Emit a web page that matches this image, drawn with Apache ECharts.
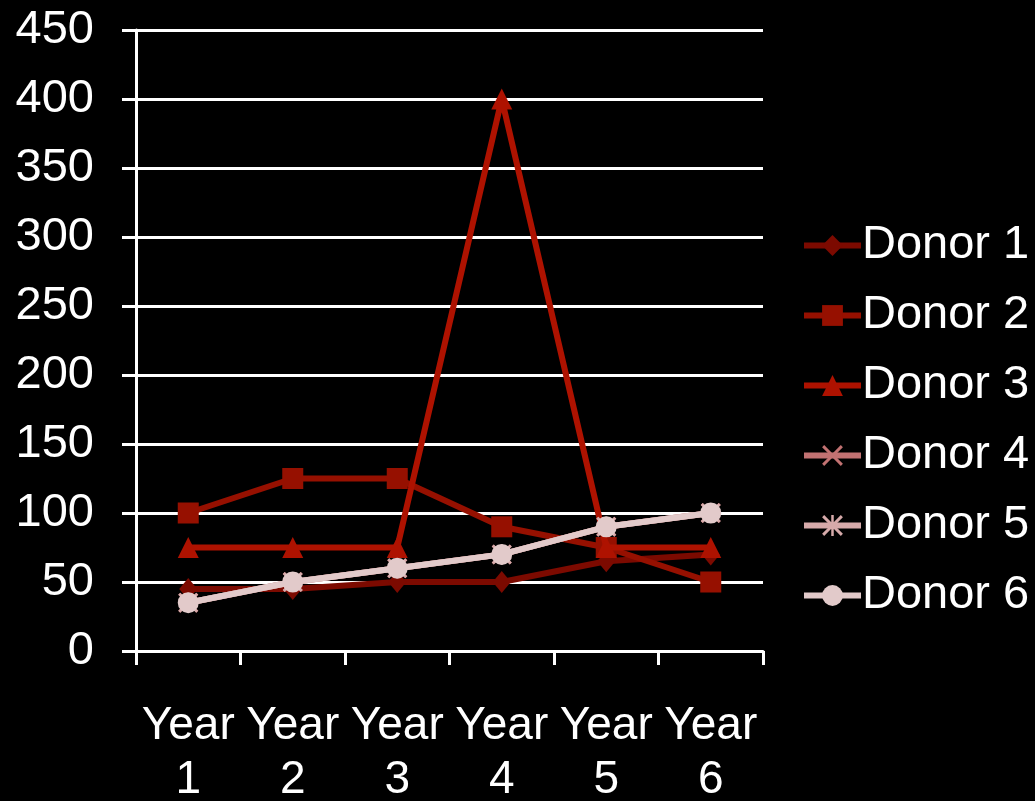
<!DOCTYPE html>
<html>
<head>
<meta charset="utf-8">
<script src="https://cdn.jsdelivr.net/npm/echarts@6/dist/echarts.min.js"></script>
<style>
html,body{margin:0;padding:0;background:#000;}
#chart{width:1035px;height:801px;}
</style>
</head>
<body>
<div id="chart"></div>
<script>
const categories = ['Year\n1','Year\n2','Year\n3','Year\n4','Year\n5','Year\n6'];
const donor1 = [45, 45, 50, 50, 65, 70];
const donor2 = [100, 125, 125, 90, 75, 50];
const donor3 = [75, 75, 75, 400, 75, 75];
const donor4 = [35, 50, 60, 70, 90, 100];
const donor5 = [35, 50, 60, 70, 90, 100];
const donor6 = [35, 50, 60, 70, 90, 100];
const seriesNames = ['Donor 1','Donor 2','Donor 3','Donor 4','Donor 5','Donor 6'];
const yTicks = {min: 0, max: 450, interval: 50};

const xPath = 'path://M0,1L1,0L5,4L9,0L10,1L6,5L10,9L9,10L5,6L1,10L0,9L4,5Z';
const starPath = 'path://M0,1L1,0L5,4L9,0L10,1L6,5L10,9L9,10L5,6L1,10L0,9L4,5Z M4.4,0L5.6,0L5.6,10L4.4,10Z';

const styles = [
  {color:'#7c0a00', symbol:'diamond', size:[18,22]},
  {color:'#961000', symbol:'rect', size:21},
  {color:'#ae1200', symbol:'triangle', size:21},
  {color:'#c27272', symbol:xPath, size:20},
  {color:'#d6aaaa', symbol:starPath, size:20},
  {color:'#e2caca', symbol:'circle', size:21}
];
const data = [donor1, donor2, donor3, donor4, donor5, donor6];

const chart = echarts.init(document.getElementById('chart'));
const font = 'Liberation Sans, Arial, sans-serif';
chart.setOption({
  backgroundColor: '#000',
  animation: false,
  grid: {left: 136, right: 272, top: 30, bottom: 150, containLabel: false, outerBoundsMode: 'none'},
  legend: {
    orient: 'vertical',
    left: 801,
    top: 222,
    padding: 0,
    itemWidth: 57,
    itemHeight: 26,
    itemGap: 23,
    data: seriesNames,
    lineStyle: {width: 6},
    textStyle: {color: '#fff', fontSize: 47, fontFamily: font, lineHeight: 46, padding: [0,0,0,-4]}
  },
  xAxis: {
    type: 'category',
    data: categories,
    boundaryGap: true,
    axisLine: {show: true, lineStyle: {color: '#fff', width: 3}},
    axisTick: {show: true, length: 14, lineStyle: {color: '#fff', width: 3}},
    axisLabel: {color: '#fff', fontSize: 46, fontFamily: font, lineHeight: 54, margin: 48, interval: 0}
  },
  yAxis: {
    type: 'value',
    min: yTicks.min, max: yTicks.max, interval: yTicks.interval,
    axisLine: {show: true, lineStyle: {color: '#fff', width: 3}},
    axisTick: {show: true, length: 14, lineStyle: {color: '#fff', width: 3}},
    splitLine: {show: true, lineStyle: {color: '#fff', width: 3}},
    axisLabel: {color: '#fff', fontSize: 47, fontFamily: font, margin: 42}
  },
  series: seriesNames.map((name, i) => ({
    name: name,
    type: 'line',
    data: data[i],
    symbol: styles[i].symbol,
    symbolSize: styles[i].size,
    showAllSymbol: true,
    lineStyle: {color: styles[i].color, width: 6},
    itemStyle: {color: styles[i].color},
    z: 2 + i
  }))
});
</script>
</body>
</html>
